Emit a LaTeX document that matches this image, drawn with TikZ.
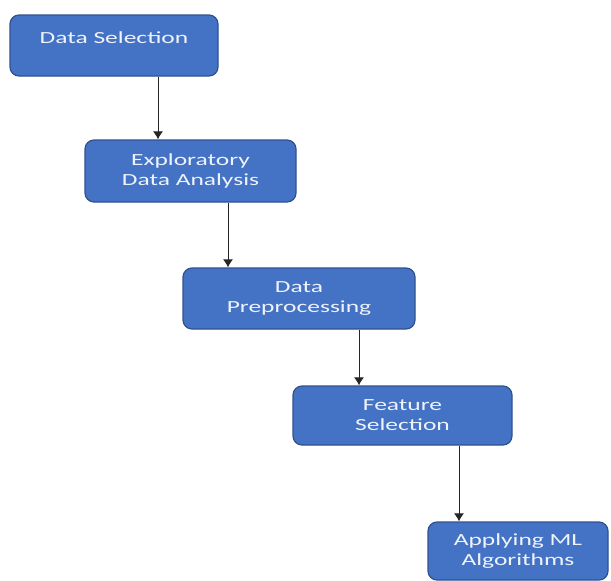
\documentclass[tikz,border=0pt]{standalone}
\usepackage{fontspec}
\setmainfont{Carlito}[FakeStretch=1.5]
\usepackage{tikz}
\usetikzlibrary{arrows.meta}
\definecolor{BoxFill}{HTML}{4472C4}
\definecolor{BoxEdge}{HTML}{2F528F}
\definecolor{BoxText}{HTML}{EEF3FB}

\begin{document}
\begin{tikzpicture}[
  x=1pt,y=-1pt,
  every node/.style={font=\fontsize{17}{20}\selectfont},
  stage/.style={draw=BoxEdge,fill=BoxFill,line width=1.2pt,rounded corners=9pt,
    text=BoxText,align=center,inner sep=0pt},
  flow/.style={-{Latex[length=8pt,width=10pt]},line width=1pt,draw=black!85}
]
  \useasboundingbox (0,0) rectangle (611,581);

  % Etapas del proceso
  \node[stage,minimum width=208,minimum height=61,text depth=15pt] (sel) at (114,45.5) {Data Selection};
  \node[stage,minimum width=211,minimum height=62] (eda) at (190.5,171) {Exploratory\\Data Analysis};
  \node[stage,minimum width=232,minimum height=61] (pre) at (299,298.5) {Data\\Preprocessing};
  \node[stage,minimum width=219,minimum height=59] (feat) at (402.5,415.5) {Feature\\Selection};
  \node[stage,minimum width=180,minimum height=58] (ml) at (518,551) {Applying ML\\Algorithms};

  % Flechas entre etapas
  \draw[flow] ([xshift=44pt]sel.south) -- ([xshift=44pt]sel.south |- eda.north);
  \draw[flow] ([xshift=37.5pt]eda.south) -- ([xshift=37.5pt]eda.south |- pre.north);
  \draw[flow] ([xshift=60pt]pre.south) -- ([xshift=60pt]pre.south |- feat.north);
  \draw[flow] ([xshift=56.5pt]feat.south) -- ([xshift=56.5pt]feat.south |- ml.north);
\end{tikzpicture}
\end{document}
